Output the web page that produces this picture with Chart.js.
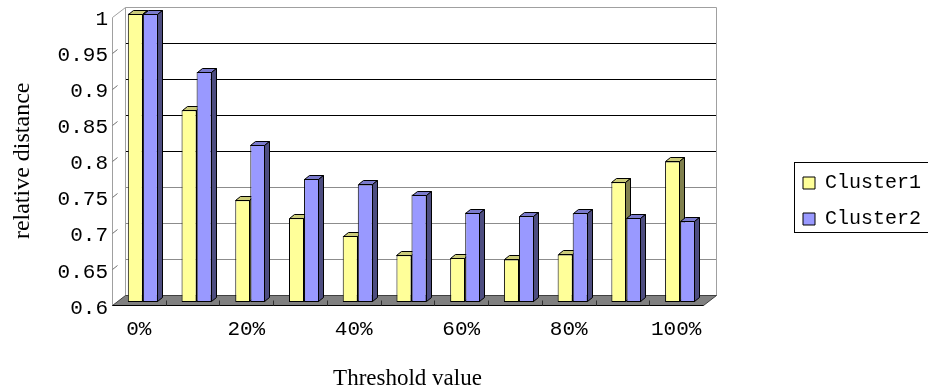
<!DOCTYPE html>
<html>
<head>
<meta charset="utf-8">
<script src="https://cdn.jsdelivr.net/npm/chart.js@4.4.1/dist/chart.umd.min.js"></script>
<style>
  html, body { margin: 0; padding: 0; background: #fff; overflow: hidden; }
  #wrap { position: relative; width: 945px; height: 390px; }
</style>
</head>
<body>
<div id="wrap"><canvas id="chart"></canvas></div>
<script>
// Relative distance per threshold value for the two clusters
const categories = ['0%', '10%', '20%', '30%', '40%', '50%', '60%', '70%', '80%', '90%', '100%'];
const cluster1 = [1.000, 0.866, 0.741, 0.716, 0.692, 0.665, 0.661, 0.659, 0.666, 0.766, 0.795];
const cluster2 = [1.000, 0.919, 0.818, 0.771, 0.763, 0.749, 0.724, 0.719, 0.723, 0.717, 0.712];
const yTickValues = [0.6, 0.65, 0.7, 0.75, 0.8, 0.85, 0.9, 0.95, 1];
const seriesNames = ['Cluster1', 'Cluster2'];
const axisFloor = 0.6;

// Pseudo-3D geometry (pixels)
const WALL = { dx: 13, dy: -10 };      // back wall offset from the front plane
const BAR_SHIFT = { dx: 4, dy: -3 };   // bars stand a little behind the front edge of the floor
const BAR_DEPTH = { dx: 5, dy: -4 };   // depth of each bar

const MONO = '"Liberation Mono", "DejaVu Sans Mono", monospace';
const SERIF = '"Liberation Serif", "Times New Roman", serif';

function line(ctx, x1, y1, x2, y2, color) {
  ctx.strokeStyle = color;
  ctx.beginPath();
  ctx.moveTo(x1, y1);
  ctx.lineTo(x2, y2);
  ctx.stroke();
}

function gridColor(v) {
  if (v >= 0.999) return '#a0a0a0';
  if (v >= 0.8) return '#000000';
  return '#8c8c8c';
}

const depthPlugin = {
  id: 'depth3d',
  afterLayout(chart) {
    // legend sits as a boxed block to the right of the plot
    const lg = chart.legend;
    lg.left = 787;
    lg.right = 945;
    lg.top = 157;
    lg.bottom = 260;
  },
  beforeDatasetsDraw(chart) {
    const ctx = chart.ctx;
    const { left, right, top, bottom } = chart.chartArea;
    const ys = chart.scales.y;
    const xs = chart.scales.x;
    const L = Math.round(left) + 0.5, R = Math.round(right) + 0.5;
    const T = Math.round(top) + 0.5, B = Math.round(bottom) + 0.5;

    ctx.save();
    ctx.lineWidth = 1;

    // back wall grid lines
    yTickValues.forEach(v => {
      const y = Math.round(ys.getPixelForValue(v)) + WALL.dy + 0.5;
      line(ctx, L + WALL.dx, y, R + WALL.dx, y, gridColor(v));
    });
    // back wall and side wall edges
    line(ctx, L + WALL.dx, T + WALL.dy, L + WALL.dx, B + WALL.dy, '#a0a0a0');
    line(ctx, R + WALL.dx, T + WALL.dy, R + WALL.dx, B + WALL.dy, '#a0a0a0');
    line(ctx, L, T, L + WALL.dx, T + WALL.dy, '#a0a0a0');
    line(ctx, L, T, L, B, '#a0a0a0');
    // short depth ticks on the side wall
    yTickValues.forEach(v => {
      if (v <= 0.6 || v >= 1) return;
      const y = Math.round(ys.getPixelForValue(v)) + 0.5;
      line(ctx, L, y, L + 5, y - 4, '#707070');
    });

    // floor
    ctx.fillStyle = '#808080';
    ctx.beginPath();
    ctx.moveTo(L, B);
    ctx.lineTo(R, B);
    ctx.lineTo(R + WALL.dx, B + WALL.dy);
    ctx.lineTo(L + WALL.dx, B + WALL.dy);
    ctx.closePath();
    ctx.fill();
    ctx.strokeStyle = '#404040';
    ctx.stroke();
    line(ctx, L, B, R, B, '#000000');
    // category separators on the floor edge
    for (let k = 1; k < categories.length; k++) {
      const x = Math.round((xs.getPixelForValue(k - 1) + xs.getPixelForValue(k)) / 2) + 0.5;
      line(ctx, x, B, x, B - 5, '#303030');
    }

    // bars: drawn category by category so each bar hides the side of its neighbour
    ctx.translate(BAR_SHIFT.dx, BAR_SHIFT.dy);
    const metas = chart.getSortedVisibleDatasetMetas().slice().sort((a, b) => a.index - b.index);
    for (let j = 0; j < categories.length; j++) {
      metas.forEach(meta => {
        const el = meta.data[j];
        if (!el) return;
        const ds = chart.data.datasets[meta.index];
        el.draw(ctx, chart.chartArea);
        const x0 = Math.round(el.x - el.width / 2) + 0.5;
        const x1 = Math.round(el.x + el.width / 2) - 0.5;
        const yt = Math.round(el.y) + 0.5;
        const yb = Math.round(el.base) - 0.5;
        ctx.lineWidth = 1;
        ctx.strokeStyle = '#000';
        // top face
        ctx.fillStyle = ds.topColor;
        ctx.beginPath();
        ctx.moveTo(x0, yt);
        ctx.lineTo(x0 + BAR_DEPTH.dx, yt + BAR_DEPTH.dy);
        ctx.lineTo(x1 + BAR_DEPTH.dx, yt + BAR_DEPTH.dy);
        ctx.lineTo(x1, yt);
        ctx.closePath();
        ctx.fill();
        ctx.stroke();
        // side face
        ctx.fillStyle = ds.sideColor;
        ctx.beginPath();
        ctx.moveTo(x1, yt);
        ctx.lineTo(x1 + BAR_DEPTH.dx, yt + BAR_DEPTH.dy);
        ctx.lineTo(x1 + BAR_DEPTH.dx, yb + BAR_DEPTH.dy);
        ctx.lineTo(x1, yb);
        ctx.closePath();
        ctx.fill();
        ctx.stroke();
      });
    }
    ctx.restore();
    return false;
  },
  afterDraw(chart) {
    // frame around the legend
    const ctx = chart.ctx;
    const lg = chart.legend;
    ctx.save();
    ctx.strokeStyle = '#000';
    ctx.lineWidth = 1;
    const x = Math.round(lg.left + 7) + 0.5;
    const y = Math.round(lg.top + 5) + 0.5;
    ctx.strokeRect(x, y, 960 - x, 70);
    ctx.restore();
  }
};

new Chart(document.getElementById('chart'), {
  type: 'bar',
  data: {
    labels: categories,
    datasets: [
      {
        label: seriesNames[0], data: cluster1, base: axisFloor,
        backgroundColor: '#FFFF99', borderColor: '#000000', borderWidth: 1, borderSkipped: false,
        topColor: '#CCCC7A', sideColor: '#80804D', clip: false
      },
      {
        label: seriesNames[1], data: cluster2, base: axisFloor,
        backgroundColor: '#9999FF', borderColor: '#000000', borderWidth: 1, borderSkipped: false,
        topColor: '#7A7ACC', sideColor: '#4D4D80', clip: false
      }
    ]
  },
  options: {
    responsive: true,
    maintainAspectRatio: false,
    animation: false,
    layout: { padding: { left: 0, top: 15, right: 142, bottom: 0 } },
    datasets: { bar: { categoryPercentage: 0.56, barPercentage: 1.0 } },
    plugins: {
      tooltip: { enabled: false },
      legend: {
        position: 'right',
        align: 'start',
        maxWidth: 100,
        labels: {
          boxWidth: 12, boxHeight: 12, padding: 16, color: '#000',
          font: { family: MONO, size: 20 }
        }
      }
    },
    scales: {
      x: {
        grid: { display: false, drawTicks: false },
        border: { display: false },
        ticks: {
          autoSkip: false, maxRotation: 0, padding: 12, color: '#000',
          font: { family: MONO, size: 21 },
          callback: (v, i) => (i % 2 === 0 ? categories[i] : '')
        },
        title: {
          display: true, text: 'Threshold value', color: '#000',
          font: { family: SERIF, size: 23, lineHeight: 1.0 },
          padding: { top: 0, bottom: 0 }
        },
        afterFit: s => { s.height = 85; }
      },
      y: {
        min: 0.6, max: 1,
        grid: { display: false, drawTicks: false },
        border: { display: false },
        afterBuildTicks: s => { s.ticks = yTickValues.map(v => ({ value: v })); },
        ticks: {
          padding: 4, labelOffset: 3, color: '#000',
          font: { family: MONO, size: 21 },
          callback: v => String(v)
        },
        title: {
          display: true, text: 'relative distance', color: '#000',
          font: { family: SERIF, size: 24, lineHeight: 1.2 },
          padding: { top: 8, bottom: 0 }
        },
        afterFit: s => { s.width = 112; }
      }
    }
  },
  plugins: [depthPlugin]
});
</script>
</body>
</html>
